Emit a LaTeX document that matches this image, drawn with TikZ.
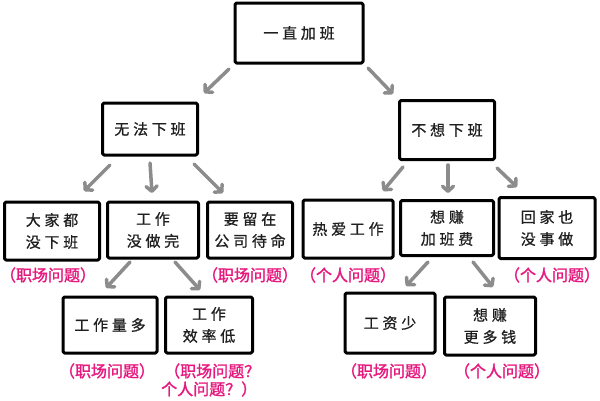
\documentclass[tikz,border=0pt]{standalone}
\usepackage{fontspec}
\usetikzlibrary{arrows.meta}
\newfontfamily\cjkbox[LetterSpace=25,FakeBold=0.8]{Noto Sans CJK SC}
\newfontfamily\cjklab[FakeBold=1.6]{Noto Sans CJK SC}
\definecolor{arrgray}{HTML}{8C8C8C}
\definecolor{labpink}{HTML}{E6197F}
\tikzset{
  box/.style={draw=black, line width=3pt, rounded corners=1.5pt, line join=round, inner sep=0pt, align=center,
    font=\cjkbox\fontsize{15}{22}\selectfont, text=black!88},
  lab/.style={inner sep=0pt, align=center, font=\cjklab\fontsize{16}{18}\selectfont, text=labpink},
  arr/.style={draw=arrgray, line width=3.5pt, line cap=round, line join=round,
    -{Straight Barb[length=5pt,width=11pt,round]}}
}
\begin{document}
\begin{tikzpicture}[x=1pt,y=-1pt]
\fill[white] (0,0) rectangle (600,400);
\useasboundingbox (0,0) rectangle (600,400);

% level 0
\node[box, minimum width=128pt, minimum height=60pt] (top) at (299,33) {一直加班};
% level 1
\node[box, minimum width=95pt, minimum height=52pt] (a) at (150,129) {无法下班};
\node[box, minimum width=95pt, minimum height=59pt] (b) at (447,130) {不想下班};
% level 2
\node[box, minimum width=95pt, minimum height=58pt] (a1) at (52,231) {大家都\\没下班};
\node[box, minimum width=91pt, minimum height=56pt] (a2) at (153,230) {工作\\没做完};
\node[box, minimum width=85pt, minimum height=56pt] (a3) at (250,230) {要留在\\公司待命};
\node[box, minimum width=90pt, minimum height=58pt] (b1) at (348,229) {热爱工作};
\node[box, minimum width=93pt, minimum height=55pt] (b2) at (447,228) {想赚\\加班费};
\node[box, minimum width=96pt, minimum height=61pt] (b3) at (547,228) {回家也\\没事做};
% level 3
\node[box, minimum width=94pt, minimum height=56pt] (c1) at (110,325) {工作量多};
\node[box, minimum width=87pt, minimum height=56pt] (c2) at (209,325) {工作\\效率低};
\node[box, minimum width=90pt, minimum height=60pt] (d1) at (390,323) {工资少};
\node[box, minimum width=91pt, minimum height=58pt] (d2) at (490,326) {想赚\\更多钱};

% labels
\node[lab] (la1) at (48,275) {（职场问题）};
\node[lab] (la3) at (250,275) {（职场问题）};
\node[lab] (lb1) at (348,275) {（个人问题）};
\node[lab] (lb3) at (552,275) {（个人问题）};
\node[lab] (lc1) at (107,371) {（职场问题）};
\node[lab, anchor=west] (lc2a) at (164,371) {（职场问题？};
\node[lab, anchor=west] (lc2b) at (161,389) {个人问题？）};
\node[lab] (ld1) at (389,371) {（职场问题）};
\node[lab] (ld2) at (502,371) {（个人问题）};

% arrows
\draw[arr] ([shift={(-70,36)}]top.center) -- ([shift={(54,-36)}]a.center);
\draw[arr] ([shift={(69,35)}]top.center) -- ([shift={(-54,-36)}]b.center);

\draw[arr] ([shift={(-40,36)}]a.center) -- ([shift={(32,-40)}]a1.center);
\draw[arr] ([shift={(0,34)}]a.center) -- ([shift={(-1,-37)}]a2.center);
\draw[arr] ([shift={(44,35)}]a.center) -- ([shift={(-27,-37)}]a3.center);

\draw[arr] ([shift={(-44,37)}]b.center) -- ([shift={(35,-38)}]b1.center);
\draw[arr] ([shift={(1,35)}]b.center) -- ([shift={(1,-35)}]b2.center);
\draw[arr] ([shift={(50,38)}]b.center) -- ([shift={(-30,-41)}]b3.center);

\draw[arr] ([shift={(-23,32)}]a2.center) -- ([shift={(-4,-37)}]c1.center);
\draw[arr] ([shift={(22,32)}]a2.center) -- ([shift={(-9,-35)}]c2.center);

\draw[arr] ([shift={(-19,34)}]b2.center) -- ([shift={(16,-37)}]d1.center);
\draw[arr] ([shift={(26,34)}]b2.center) -- ([shift={(3,-39)}]d2.center);
\end{tikzpicture}
\end{document}
